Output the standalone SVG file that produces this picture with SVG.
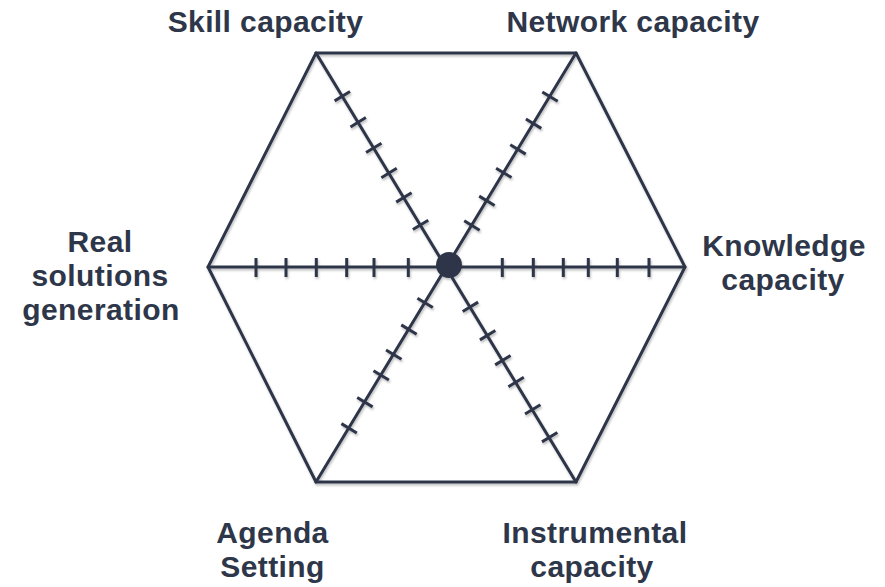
<svg xmlns="http://www.w3.org/2000/svg" width="885" height="587" viewBox="0 0 885 587">
<defs>
<style>
.ln{stroke:#2e3649;stroke-width:3;fill:none;stroke-linecap:round;stroke-linejoin:miter}
.tk line{stroke:#2e3649;stroke-width:3}
.lbl{font-family:"Liberation Sans",Arial,sans-serif;font-weight:bold;font-size:30px;letter-spacing:0.4px;fill:#2e3649;text-anchor:middle}
</style>
<filter id="sh" x="-10%" y="-10%" width="120%" height="120%">
<feDropShadow dx="1" dy="2" stdDeviation="1" flood-color="#000" flood-opacity="0.25"/>
</filter>
</defs>
<rect width="885" height="587" fill="#fff"/>
<g id="chart" filter="url(#sh)">
<polygon class="ln" points="316,53 576,53 685,267 576,482 316,482 208,267"/>
<g id="connectors">
<line class="ln" x1="316" y1="53" x2="576" y2="482"/>
<line class="ln" x1="576" y1="53" x2="316" y2="482"/>
<line class="ln" x1="208" y1="267" x2="685" y2="267"/>
</g>
<g class="tk" transform="translate(446.5,267)">
<line x1="-38.2" y1="-9" x2="-38.2" y2="10"/>
<line x1="-72.5" y1="-9" x2="-72.5" y2="10"/>
<line x1="-99.8" y1="-9" x2="-99.8" y2="10"/>
<line x1="-130.2" y1="-9" x2="-130.2" y2="10"/>
<line x1="-160.5" y1="-9" x2="-160.5" y2="10"/>
<line x1="-190.5" y1="-9" x2="-190.5" y2="10"/>
<line x1="55.8" y1="-9" x2="55.8" y2="10"/>
<line x1="86.8" y1="-9" x2="86.8" y2="10"/>
<line x1="116.8" y1="-9" x2="116.8" y2="10"/>
<line x1="141.8" y1="-9" x2="141.8" y2="10"/>
<line x1="170.8" y1="-9" x2="170.8" y2="10"/>
<line x1="202.5" y1="-9" x2="202.5" y2="10"/>
</g>
<g class="tk" transform="translate(446.5,267.5) rotate(58.7)">
<line x1="46" y1="-9" x2="46" y2="9"/>
<line x1="79.2" y1="-9" x2="79.2" y2="9"/>
<line x1="108.5" y1="-9" x2="108.5" y2="9"/>
<line x1="134" y1="-9" x2="134" y2="9"/>
<line x1="166" y1="-9" x2="166" y2="9"/>
<line x1="198.6" y1="-9" x2="198.6" y2="9"/>
<line x1="-49.9" y1="-9" x2="-49.9" y2="9"/>
<line x1="-82" y1="-9" x2="-82" y2="9"/>
<line x1="-110.6" y1="-9" x2="-110.6" y2="9"/>
<line x1="-140" y1="-9" x2="-140" y2="9"/>
<line x1="-170" y1="-9" x2="-170" y2="9"/>
<line x1="-200.5" y1="-9" x2="-200.5" y2="9"/>
</g>
<g class="tk" transform="translate(446.5,267.5) rotate(121.2)">
<line x1="41.3" y1="-9" x2="41.3" y2="9"/>
<line x1="72.5" y1="-9" x2="72.5" y2="9"/>
<line x1="101.8" y1="-9" x2="101.8" y2="9"/>
<line x1="126.1" y1="-9" x2="126.1" y2="9"/>
<line x1="157.5" y1="-9" x2="157.5" y2="9"/>
<line x1="188" y1="-9" x2="188" y2="9"/>
<line x1="-49.1" y1="-9" x2="-49.1" y2="9"/>
<line x1="-78" y1="-9" x2="-78" y2="9"/>
<line x1="-110.6" y1="-9" x2="-110.6" y2="9"/>
<line x1="-138" y1="-9" x2="-138" y2="9"/>
<line x1="-168.1" y1="-9" x2="-168.1" y2="9"/>
<line x1="-199.8" y1="-9" x2="-199.8" y2="9"/>
</g>
<circle id="center" cx="449" cy="265" r="13" fill="#2e3649"/>
</g>
<g id="skill"><text class="lbl" x="265.5" y="32">Skill capacity</text></g>
<g id="network"><text class="lbl" x="633" y="32">Network capacity</text></g>
<g id="knowledge">
<text class="lbl" x="784" y="256">Knowledge</text>
<text class="lbl" x="783" y="290">capacity</text>
</g>
<g id="real">
<text class="lbl" x="100" y="252">Real</text>
<text class="lbl" x="100" y="286">solutions</text>
<text class="lbl" x="101" y="320">generation</text>
</g>
<g id="agenda">
<text class="lbl" x="272.5" y="543">Agenda</text>
<text class="lbl" x="272.5" y="577">Setting</text>
</g>
<g id="instrumental">
<text class="lbl" x="595" y="543">Instrumental</text>
<text class="lbl" x="592" y="577">capacity</text>
</g>
</svg>
